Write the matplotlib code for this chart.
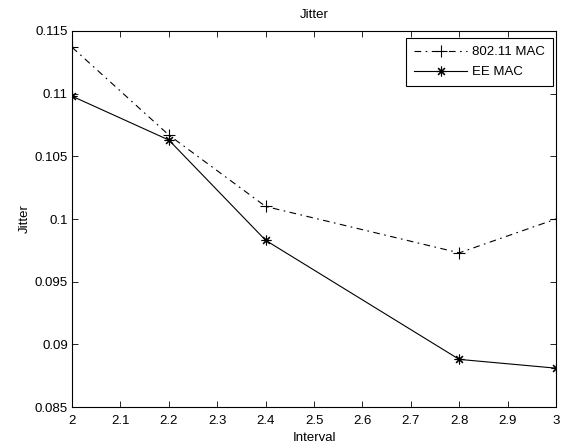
import matplotlib
matplotlib.use("Agg")
import matplotlib.pyplot as plt

intervals = [2.0, 2.2, 2.4, 2.8, 3.0]
jitter_80211 = [0.1137, 0.1067, 0.1010, 0.0973, 0.1000]
jitter_ee = [0.1098, 0.1063, 0.0983, 0.0888, 0.0881]

x_ticks = [2, 2.1, 2.2, 2.3, 2.4, 2.5, 2.6, 2.7, 2.8, 2.9, 3]
x_labels = ["2", "2.1", "2.2", "2.3", "2.4", "2.5", "2.6", "2.7", "2.8", "2.9", "3"]
y_ticks = [0.085, 0.09, 0.095, 0.1, 0.105, 0.11, 0.115]
y_labels = ["0.085", "0.09", "0.095", "0.1", "0.105", "0.11", "0.115"]

plt.rcParams["font.family"] = ["Liberation Sans", "DejaVu Sans"]
plt.rcParams["font.size"] = 9.5

fig = plt.figure(figsize=(5.63, 4.46), dpi=100)
ax = fig.add_axes([0.128, 0.0874, 0.8596, 0.8431])

ax.plot(intervals, jitter_80211, color="black", linestyle=(0, (6, 4, 1.5, 4)), linewidth=0.8,
        marker="+", markersize=9, markeredgewidth=0.8, label="802.11 MAC")
ax.plot(intervals, jitter_ee, color="black", linestyle="-", linewidth=0.8,
        marker=(8, 2, 0), markersize=7, markeredgewidth=0.8, label="EE MAC")

ax.set_xlim(2, 3)
ax.set_ylim(0.085, 0.115)
ax.set_xticks(x_ticks)
ax.set_xticklabels(x_labels)
ax.set_yticks(y_ticks)
ax.set_yticklabels(y_labels)
ax.tick_params(direction="in", top=True, right=True, length=4, width=0.6)
ax.tick_params(axis="x", pad=6)
ax.tick_params(axis="y", pad=3)
for s in ax.spines.values():
    s.set_linewidth(0.8)

ax.set_title("Jitter", fontsize=9.5, pad=9)
ax.set_xlabel("Interval", labelpad=3)
ax.set_ylabel("Jitter", labelpad=3)

leg = ax.legend(loc="upper right", bbox_to_anchor=(0.994, 0.981), borderaxespad=0,
                fancybox=False, edgecolor="black", framealpha=1, handlelength=4.0,
                handletextpad=0.4, borderpad=0.6, labelspacing=0.6)
leg.get_frame().set_linewidth(0.8)

fig.savefig("out.png", dpi=100)
